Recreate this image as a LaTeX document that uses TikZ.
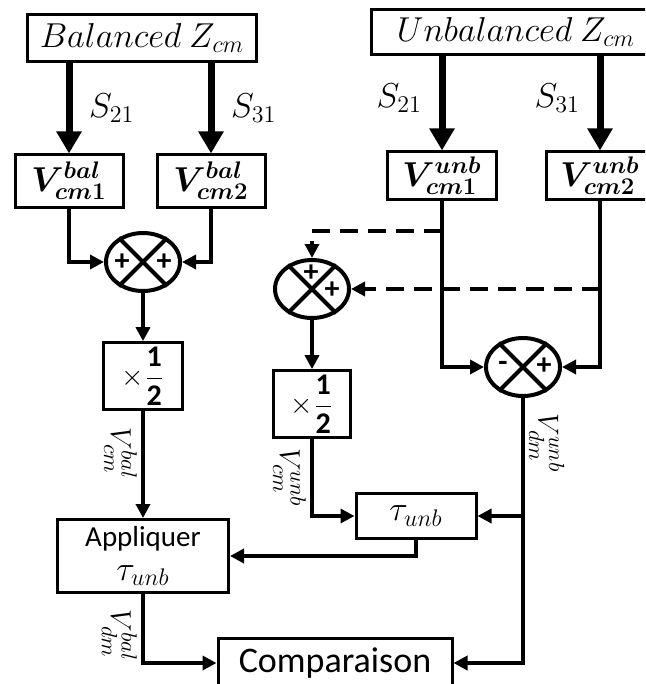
\documentclass[tikz,border=0pt]{standalone}
\usepackage[no-math]{fontspec}
\setmainfont{Carlito}
\usepackage{amsmath}
\usepackage{bm}
\usetikzlibrary{arrows.meta,shapes.geometric}

\tikzset{
  block/.style={draw=black, line width=1.5pt, fill=white, inner sep=2pt},
  sumnode/.style={ellipse, draw=black, line width=2pt, minimum width=37pt, minimum height=29pt, inner sep=0pt},
  sline/.style={line width=3.5pt, -{Triangle[width=12pt,length=11pt]}},
  wire/.style={line width=2.2pt},
  conn/.style={wire, -{Triangle[width=7pt,length=7pt]}},
  dconn/.style={conn, dash pattern=on 9pt off 5pt},
  sig/.style={font=\fontsize{15}{16}\selectfont, rotate=-90, inner sep=2pt},
  pm/.style={font=\fontsize{15}{15}\bfseries, inner sep=0pt},
  big/.style={font=\fontsize{17}{19}\selectfont},
}
\newcommand{\xcross}[1]{\draw[line width=2pt] (#1.45) -- (#1.225) (#1.135) -- (#1.-45);}

\begin{document}
\begin{tikzpicture}[x=0.5pt, y=-0.5pt, font=\fontsize{14}{16}\selectfont]
  \clip (0,0) rectangle (645,684);
  \useasboundingbox (0,0) rectangle (645,684);

  % sources
  \node[block, big, minimum width=114.5pt, minimum height=23.5pt] at (142,38) (bz) {$Balanced\ Z_{cm}$};
  \node[block, big, minimum width=145pt, minimum height=22.5pt] at (516,32) (uz) {$Unbalanced\ Z_{cm}$};

  % common mode voltages
  \node[block, big, minimum width=54pt, minimum height=26pt] at (69,181) (vb1) {$\bm{V}^{\bm{bal}}_{\bm{cm1}}$};
  \node[block, big, minimum width=54pt, minimum height=26pt] at (211,181) (vb2) {$\bm{V}^{\bm{bal}}_{\bm{cm2}}$};
  \node[block, big, minimum width=54.5pt, minimum height=24pt] at (442,176) (vu1) {$\bm{V}^{\bm{unb}}_{\bm{cm1}}$};
  \node[block, big, minimum width=54pt, minimum height=24pt] at (600,176) (vu2) {$\bm{V}^{\bm{unb}}_{\bm{cm2}}$};

  \draw[sline] (vb1 |- bz.south) -- (vb1.north) node[midway, right=5pt, big] {$S_{21}$};
  \draw[sline] (vb2 |- bz.south) -- (vb2.north) node[midway, right=5pt, big] {$S_{31}$};
  \draw[sline] (vu1 |- uz.south) -- (vu1.north) node[pos=0.45, left=5pt, big] {$S_{21}$};
  \draw[sline] (vu2 |- uz.south) -- (vu2.north) node[pos=0.45, left=5pt, big] {$S_{31}$};

  % summing junctions
  \node[sumnode] at (143,262) (sb) {};
  \xcross{sb}
  \node[pm] at (122,262) {+};
  \node[pm] at (164,262) {+};
  \node[sumnode] at (312,289) (su) {};
  \xcross{su}
  \node[pm] at (311,273) {+};
  \node[pm] at (332,290) {+};
  \node[sumnode] at (523,367) (sd) {};
  \xcross{sd}
  \node[pm] at (503,366) {-};
  \node[pm] at (544,366) {+};

  % processing blocks
  \node[block, minimum width=39.5pt, minimum height=31pt, font=\fontsize{15}{17}\selectfont] at (143,376) (hb) {$\times\dfrac{\textbf{1}}{\textbf{2}}$};
  \node[block, minimum width=38.5pt, minimum height=31pt, font=\fontsize{15}{17}\selectfont] at (312,404) (hu) {$\times\dfrac{\textbf{1}}{\textbf{2}}$};
  \node[block, minimum width=60pt, minimum height=22.5pt, font=\fontsize{18}{20}\selectfont] at (416,516) (tu) {$\tau_{unb}$};
  \node[block, minimum width=85.5pt, minimum height=36.5pt, align=center, font=\fontsize{14.5}{19}\selectfont] at (143,556) (ap) {\raisebox{-2pt}{Appliquer}\\\fontsize{17}{17}\selectfont$\tau_{unb}$};
  \node[block, minimum width=117pt, minimum height=25pt, font=\fontsize{18}{20}\selectfont] at (335,663) (cp) {Comparaison};

  \coordinate (d1) at (442,231);
  \coordinate (d2) at (600,289);
  \coordinate (b1) at (523,516);

  % connections
  \draw[conn] (vb1.south) |- (sb.west);
  \draw[conn] (vb2.south) |- (sb.east);
  \draw[conn] (sb.south) -- (hb.north);
  \draw[conn] (hb.south) -- (ap.north) node[pos=0.4, sig, anchor=north] {$V^{bal}_{cm}$};
  \draw[conn] (ap.south) |- (cp.west) node[pos=0.3, sig, anchor=north] {$V^{bal}_{dm}$};
  \draw[conn] (vu1.south) |- (sd.west);
  \draw[conn] (vu2.south) |- (sd.east);
  \draw[dconn] (d1) -| (su.north);
  \draw[dconn] (d2) -- (su.east);
  \draw[conn] (su.south) -- (hu.north);
  \draw[conn] (hu.south) |- (tu.west) node[pos=0.25, sig, anchor=north] {$V^{unb}_{cm}$};
  \draw[conn] (sd.south) |- (cp.east) node[pos=0.085, sig, anchor=south] {$V^{unb}_{dm}$};
  \draw[conn] (b1) -- (tu.east);
  \draw[conn] (tu.south) |- (ap.east);
\end{tikzpicture}
\end{document}
